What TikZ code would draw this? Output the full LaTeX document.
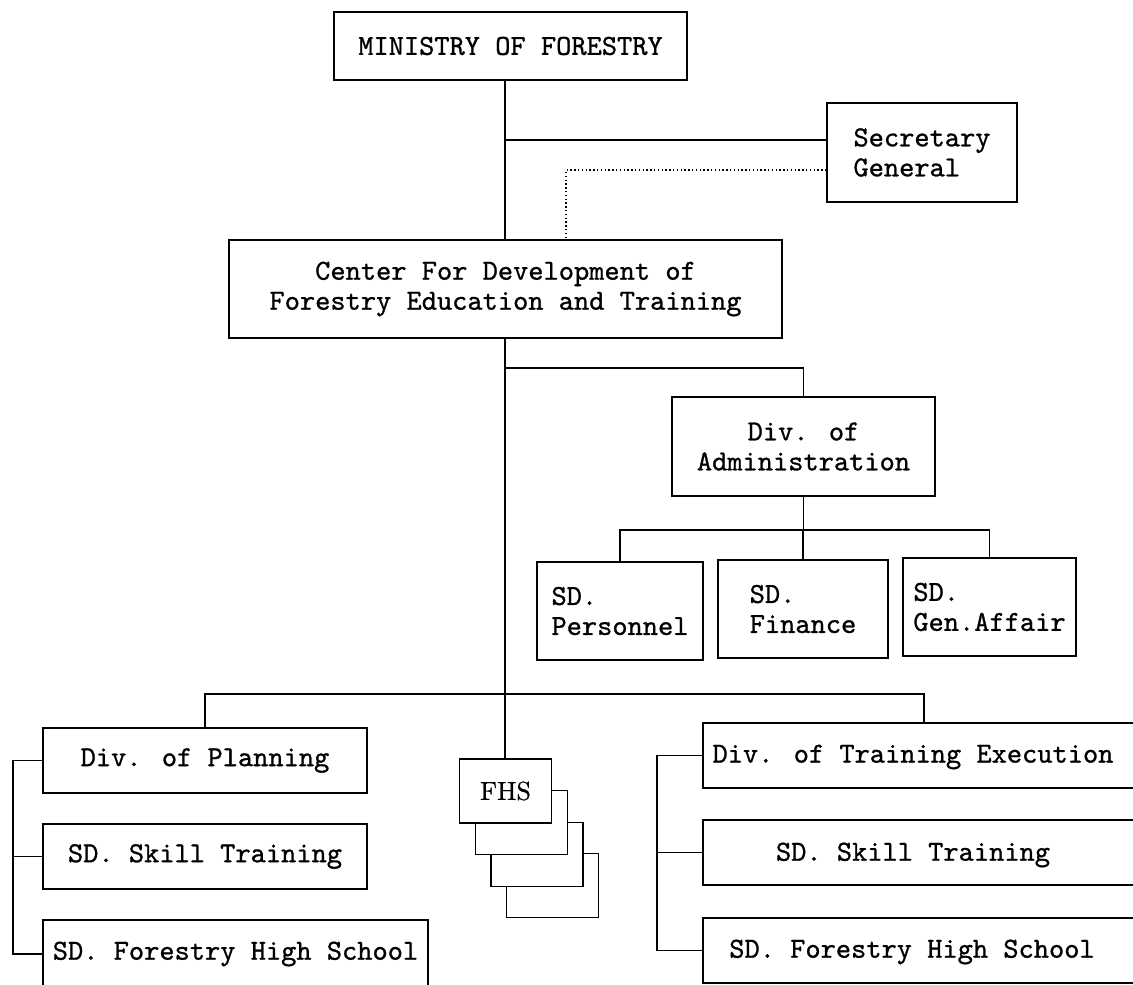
\documentclass[tikz,border=0pt]{standalone}
\usepackage{fontspec}
\newfontfamily\chartmono{lmmono10-regular.otf}[FakeBold=0.9]
\newfontfamily\chartserif{lmroman10-regular.otf}[FakeBold=0.8]
\begin{document}
\begin{tikzpicture}[x=1pt,y=-1pt,
  box/.style={draw, line width=1.4pt, inner sep=0pt, align=center,
    font=\chartmono\fontsize{29}{30}\selectfont},
  txt/.style={inner sep=0pt, align=center, font=\chartmono\fontsize{29}{30}\selectfont},
  fbox/.style={draw, fill=white, line width=1.4pt, inner sep=0pt,
    minimum width=92pt, minimum height=64pt, font=\chartserif\fontsize{26}{28}\selectfont},
  conn/.style={line width=1.3pt},
  dots/.style={line width=1.3pt, dash pattern=on 1.4pt off 2.4pt}]
\path[use as bounding box] (0,0) rectangle (1133,985);
\clip (0,0) rectangle (1133,985);
\fill[white] (0,0) rectangle (1133,985);

% top level
\node[box, minimum width=353pt, minimum height=68pt] (min) at (510.5,46) {MINISTRY OF FORESTRY};
\node[box, minimum width=190pt, minimum height=99pt, align=left] (sec) at (922,152.5) {Secretary\\General};
\node[box, minimum width=553pt, minimum height=98pt] (cen) at (505.5,289) {Center For Development of\\Forestry Education and Training};

% administration
\node[box, minimum width=263pt, minimum height=99pt] (adm) at (803.5,446.5) {Div. of\\Administration};
\node[box, minimum width=166pt, minimum height=98pt, align=left] (per) at (620,611) {SD.\\Personnel};
\node[box, minimum width=170pt, minimum height=98pt, align=left] (fin) at (803,609) {SD.\\Finance};
\node[box, minimum width=173pt, minimum height=98pt, align=left] (gen) at (989.5,607) {SD.\\Gen.Affair};

% left column
\node[box, minimum width=324pt, minimum height=65pt] (pla) at (205,760.5) {Div. of Planning};
\node[box, minimum width=324pt, minimum height=65pt] (skl) at (205,856.5) {SD. Skill Training};
\node[box, minimum width=385pt, minimum height=68pt] (fhl) at (235.5,954) {SD. Forestry High School};

% right column
\node[box, minimum width=442pt, minimum height=65pt] (tre) at (924,755.5) {};
\node[txt] (treT) at (913,757) {Div. of Training Execution};
\node[box, minimum width=442pt, minimum height=65pt] (skr) at (924,852.5) {};
\node[txt] (skrT) at (913,855) {SD. Skill Training};
\node[box, minimum width=442pt, minimum height=65pt] (fhr) at (924,950.5) {};
\node[txt] (fhrT) at (912,952) {SD. Forestry High School};

% FHS stack
\node[fbox] (f4) at (552.5,885.5) {};
\node[fbox] (f3) at (537,854.5) {};
\node[fbox] (f2) at (521.5,822.5) {};
\node[fbox] (f1) at (505.5,791) {FHS};

% helper coordinates
\coordinate (sp) at (505,0);
\coordinate (j1) at (505,140);
\coordinate (d1) at (566,170);
\coordinate (j2) at (505,368);
\coordinate (j3) at (803,530);
\coordinate (j4) at (505,694);
\coordinate (lb) at (13,0);
\coordinate (rb) at (657,0);

% connectors
\draw[conn] (min.south -| sp) -- (cen.north -| sp);
\draw[conn] (j1) -- (j1 -| sec.west);
\draw[dots] (d1 -| sec.west) -- (d1) -- (d1 |- cen.north);
\draw[conn] (cen.south -| sp) -- (f1.north -| sp);
\draw[conn] (j2) -| (adm.north);
\draw[conn] (adm.south) -- (adm.south |- j3);
\draw[conn] (per.north) -- (per.north |- j3) -- (gen.north |- j3) -- (gen.north);
\draw[conn] (fin.north) -- (fin.north |- j3);
\draw[conn] (pla.north) -- (pla.north |- j4) -- (tre.north |- j4) -- (tre.north);
\draw[conn] (pla.west) -- (pla.west -| lb) -- (fhl.west -| lb) -- (fhl.west);
\draw[conn] (skl.west -| lb) -- (skl.west);
\draw[conn] (tre.west) -- (tre.west -| rb) -- (fhr.west -| rb) -- (fhr.west);
\draw[conn] (skr.west -| rb) -- (skr.west);
\end{tikzpicture}
\end{document}
